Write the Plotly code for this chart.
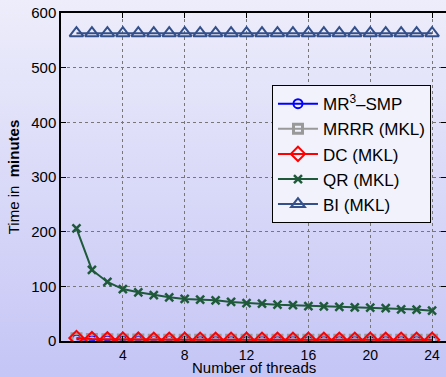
import plotly.graph_objects as go

threads = list(range(1, 25))
mr3_smp = [3.0, 1.8, 1.3, 1.1, 0.9, 0.8, 0.7, 0.7, 0.6, 0.6, 0.6, 0.5, 0.5, 0.5, 0.5, 0.5, 0.5, 0.5, 0.5, 0.5, 0.5, 0.5, 0.5, 0.5]
mrrr_mkl = [5.0, 3.5, 3.0, 2.8, 2.6, 2.5, 2.5, 2.4, 2.4, 2.4, 2.3, 2.3, 2.3, 2.3, 2.3, 2.3, 2.3, 2.3, 2.3, 2.3, 2.3, 2.3, 2.3, 2.3]
dc_mkl = [5.5, 3.5, 3.0, 2.7, 2.5, 2.4, 2.3, 2.3, 2.2, 2.2, 2.2, 2.2, 2.2, 2.2, 2.2, 2.2, 2.2, 2.2, 2.2, 2.2, 2.2, 2.2, 2.2, 2.2]
qr_mkl = [206, 130, 108, 95, 89, 84, 80, 77, 75.5, 74.5, 71.5, 69.5, 68.5, 66.5, 65.5, 64, 63.5, 62.5, 61.5, 61, 60, 58, 57.5, 55.5]
bi_mkl = [563] * 24

names = ["MR<sup>3</sup>–SMP", "MRRR (MKL)", "DC (MKL)", "QR (MKL)", "BI (MKL)"]
x_ticks = [4, 8, 12, 16, 20, 24]
y_ticks = [0, 100, 200, 300, 400, 500, 600]
x_title = "Number of threads"
y_title = "Time in  <b>minutes</b>"

fig = go.Figure()
fig.add_trace(go.Scatter(x=threads, y=mr3_smp, name=names[0], mode="lines+markers",
                         line=dict(color="#0000ff", width=2),
                         marker=dict(symbol="circle-open", size=9, color="#0000ff", line=dict(width=2))))
fig.add_trace(go.Scatter(x=threads, y=mrrr_mkl, name=names[1], mode="lines+markers",
                         line=dict(color="#999999", width=2),
                         marker=dict(symbol="square-open", size=9, color="#999999", line=dict(width=3))))
fig.add_trace(go.Scatter(x=threads, y=dc_mkl, name=names[2], mode="lines+markers",
                         line=dict(color="#ff0000", width=2),
                         marker=dict(symbol="diamond-open", size=11, color="#ff0000", line=dict(width=2))))
fig.add_trace(go.Scatter(x=threads, y=qr_mkl, name=names[3], mode="lines+markers",
                         line=dict(color="#1e5a3a", width=2),
                         marker=dict(symbol="x-thin-open", size=8, color="#1e5a3a", line=dict(width=2.5, color="#1e5a3a"))))
fig.add_trace(go.Scatter(x=threads, y=bi_mkl, name=names[4], mode="lines+markers",
                         line=dict(color="#34508a", width=2),
                         marker=dict(symbol="triangle-up-open", size=12, color="#34508a", line=dict(width=2))))

svg = ("data:image/svg+xml;utf8,<svg xmlns='http://www.w3.org/2000/svg' width='446' height='377' preserveAspectRatio='none'>"
       "<defs><linearGradient id='g' x1='0' y1='0' x2='0' y2='1'>"
       "<stop offset='0' stop-color='%23EDEDFB'/><stop offset='1' stop-color='%23C5C5F6'/>"
       "</linearGradient></defs><rect width='446' height='377' fill='url(%23g)'/></svg>")

fig.add_layout_image(dict(source=svg, xref="paper", yref="paper", x=-61/385, y=1 + 13/328,
                          sizex=446/385, sizey=377/328, xanchor="left", yanchor="top",
                          sizing="stretch", layer="below"))

axis_common = dict(showline=True, linecolor="black", linewidth=1.5, mirror="ticks",
                   ticks="inside", ticklen=5, tickcolor="black",
                   showgrid=True, gridcolor="#777777", griddash="dot", gridwidth=1,
                   zeroline=False)

fig.update_layout(
    width=446, height=377,
    margin=dict(l=61, r=0, t=13, b=36, autoexpand=False),
    paper_bgcolor="rgba(0,0,0,0)", plot_bgcolor="rgba(0,0,0,0)",
    font=dict(family="Liberation Sans, Arial, sans-serif", color="black"),
    xaxis=dict(range=[0, 24.9], tickvals=x_ticks, **axis_common,
               tickfont=dict(size=14, color="black")),
    yaxis=dict(range=[0, 600], tickvals=y_ticks, **axis_common,
               tickfont=dict(size=15, color="black"),
               title=dict(text=y_title, font=dict(size=15), standoff=8)),
    legend=dict(x=0.548, y=0.78, xanchor="left", yanchor="top",
                bgcolor="#F2F2FC", bordercolor="black", borderwidth=1,
                font=dict(size=17), tracegroupgap=0, itemwidth=40),
    showlegend=True,
)
fig.add_annotation(text=x_title, xref="paper", yref="paper", x=0.5, y=-36/328,
                   xanchor="center", yanchor="bottom", showarrow=False, borderpad=0,
                   font=dict(size=15, color="black"))

fig.write_html("out.html", post_script="document.body.style.margin='0';",
               config={"displayModeBar": False})
